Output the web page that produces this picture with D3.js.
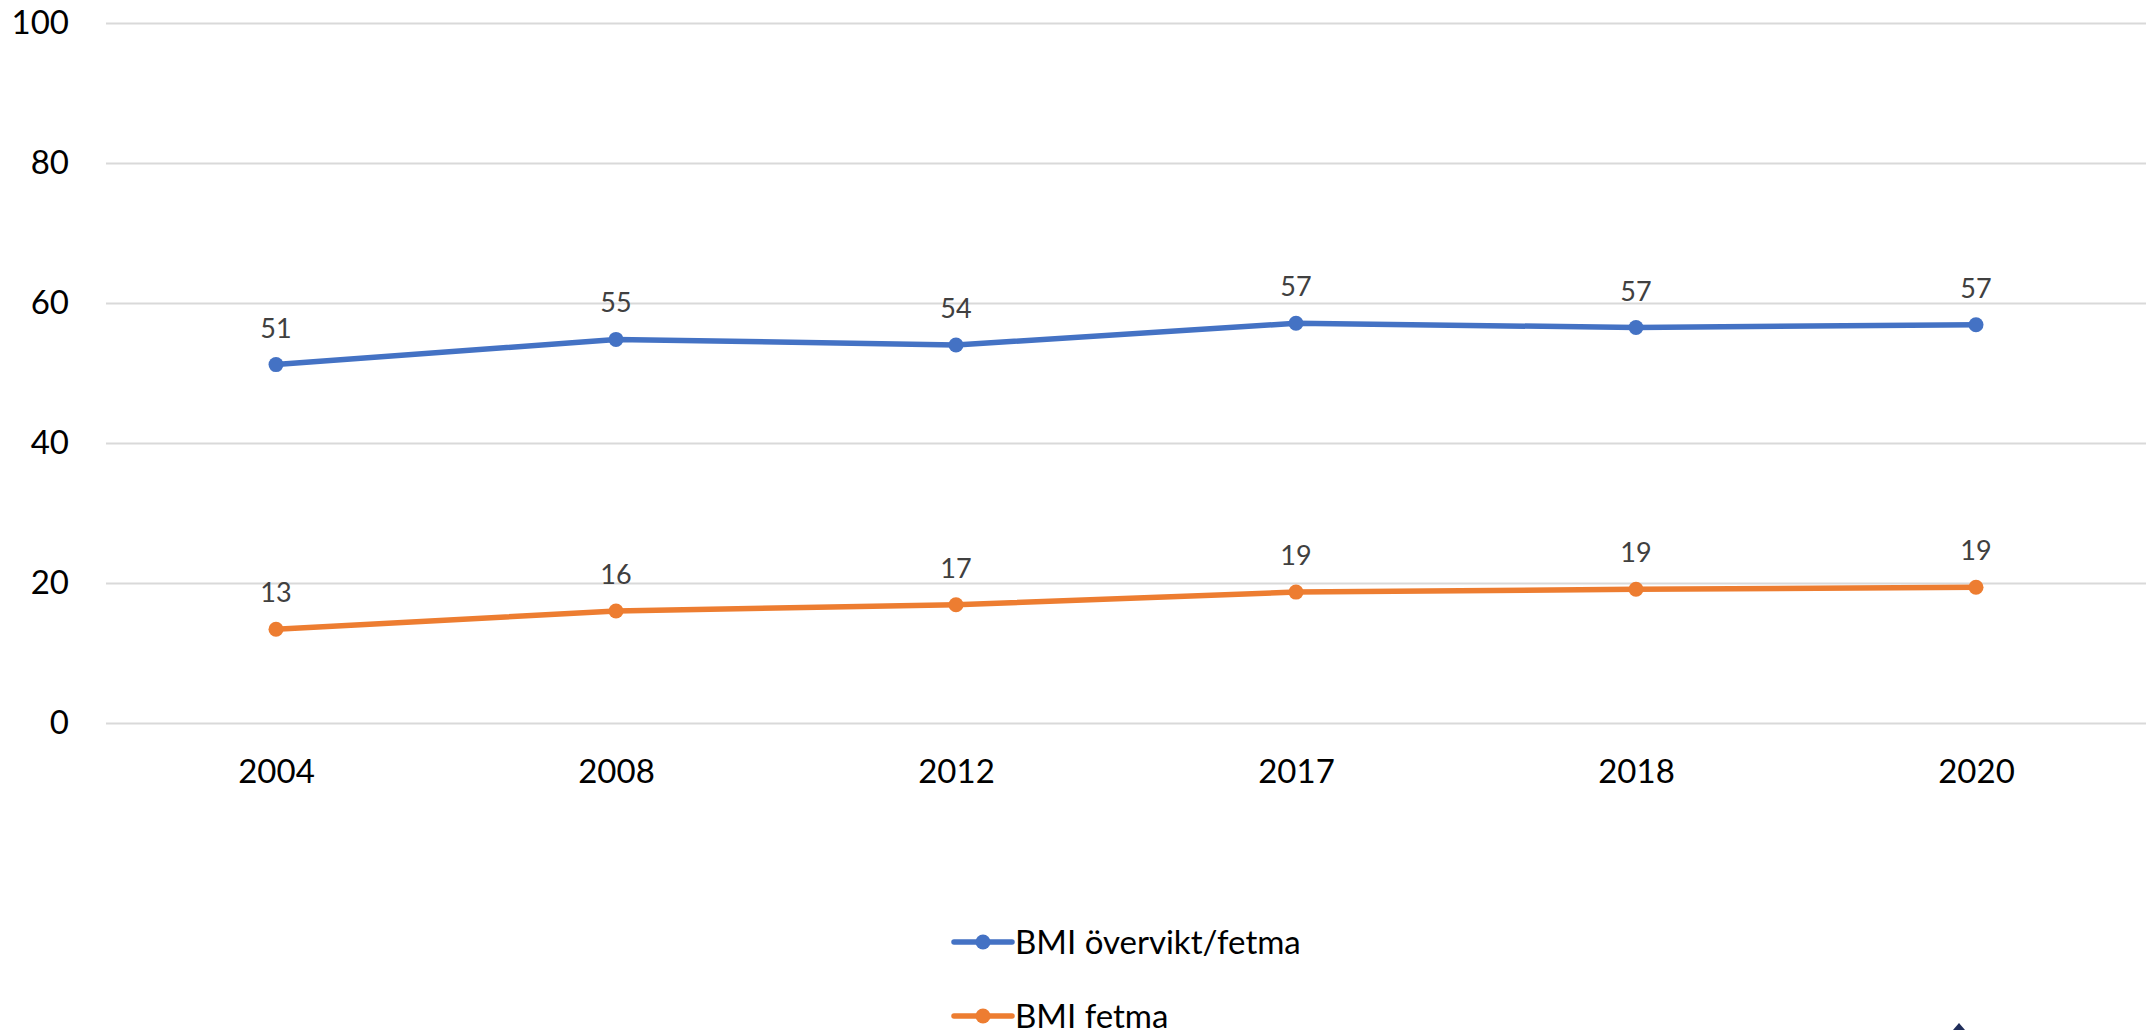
<!DOCTYPE html>
<html>
<head>
<meta charset="utf-8">
<script src="https://cdn.jsdelivr.net/npm/d3@7"></script>
<style>
  html, body { margin: 0; padding: 0; background: #fff; }
  svg { display: block; font-family: Lato, "Open Sans", sans-serif; }
</style>
</head>
<body>
<svg id="chart" width="2156" height="1030"></svg>
<script>
const categories = ["2004", "2008", "2012", "2017", "2018", "2020"];
const seriesNames = ["BMI övervikt/fetma", "BMI fetma"];
const overviktFetma = [51.2, 54.8, 54.0, 57.1, 56.5, 56.9];
const fetma = [13.4, 16.0, 16.9, 18.7, 19.1, 19.4];
const yTicks = [0, 20, 40, 60, 80, 100];
const colors = ["#4472C4", "#ED7D31"];

const series = [
  { name: seriesNames[0], values: overviktFetma, color: colors[0] },
  { name: seriesNames[1], values: fetma, color: colors[1] }
];

const svg = d3.select("#chart");
const plotLeft = 106, plotRight = 2146, plotTop = 23, plotBottom = 723;

const x = d3.scalePoint().domain(categories).range([plotLeft, plotRight]).padding(0.5);
const y = d3.scaleLinear().domain([0, 100]).range([plotBottom, plotTop]);

// y axis + gridlines
const yAxis = svg.append("g")
  .attr("transform", `translate(${plotLeft},0)`)
  .call(d3.axisLeft(y).tickValues(yTicks).tickSize(-(plotRight - plotLeft)).tickPadding(37));
yAxis.select(".domain").remove();
yAxis.selectAll(".tick line").attr("stroke", "#D9D9D9").attr("stroke-width", 2);
yAxis.selectAll(".tick text").attr("fill", "#000").style("font-size", "33px").style("font-family", "Lato, sans-serif");

// x axis
const xAxis = svg.append("g")
  .attr("transform", `translate(0,${plotBottom})`)
  .call(d3.axisBottom(x).tickSize(0).tickPadding(37));
xAxis.select(".domain").remove();
xAxis.selectAll(".tick text").attr("fill", "#000").style("font-size", "33px").style("font-family", "Lato, sans-serif");

const line = d3.line().x((d, i) => x(categories[i])).y(d => y(d));

series.forEach(s => {
  svg.append("path")
    .datum(s.values)
    .attr("d", line)
    .attr("fill", "none")
    .attr("stroke", s.color)
    .attr("stroke-width", 5.5)
    .attr("stroke-linejoin", "round")
    .attr("stroke-linecap", "round");
  svg.append("g").selectAll("circle")
    .data(s.values)
    .join("circle")
    .attr("cx", (d, i) => x(categories[i]))
    .attr("cy", d => y(d))
    .attr("r", 7.5)
    .attr("fill", s.color);
  svg.append("g").selectAll("text")
    .data(s.values)
    .join("text")
    .attr("x", (d, i) => x(categories[i]))
    .attr("y", d => y(d) - 27)
    .attr("text-anchor", "middle")
    .attr("fill", "#404040")
    .style("font-size", "27px")
    .text(d => Math.round(d));
});

// legend
const legendX = 954, legendRows = [942, 1016];
const lg = svg.append("g").selectAll("g")
  .data(series)
  .join("g")
  .attr("transform", (d, i) => `translate(${legendX},${legendRows[i]})`);
lg.append("line")
  .attr("x1", 0).attr("x2", 58).attr("y1", 0).attr("y2", 0)
  .attr("stroke", d => d.color).attr("stroke-width", 5.5).attr("stroke-linecap", "round");
lg.append("circle")
  .attr("cx", 29).attr("cy", 0).attr("r", 7.5)
  .attr("fill", d => d.color);
lg.append("text")
  .attr("x", 61).attr("y", 0).attr("dy", "0.35em")
  .attr("fill", "#000")
  .style("font-size", "33px")
  .text(d => d.name);

// small decorative mark at bottom edge
svg.append("path")
  .attr("d", "M1959,1023 L1965,1030 L1953,1030 Z")
  .attr("fill", "#1F2D5A");
</script>
</body>
</html>
